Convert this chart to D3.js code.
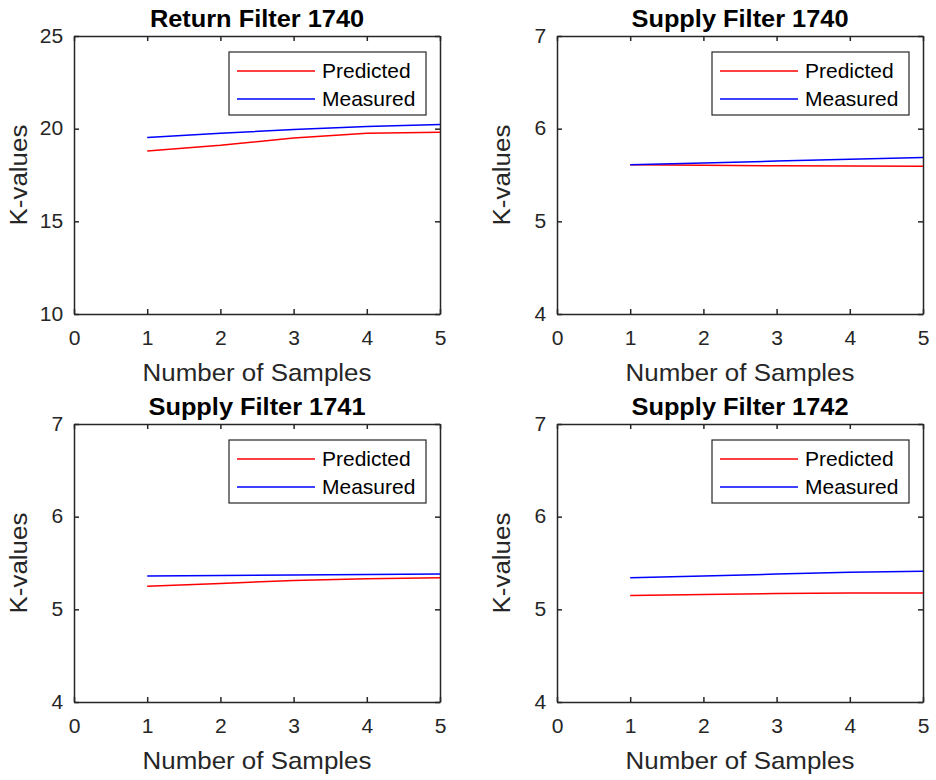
<!DOCTYPE html>
<html>
<head>
<meta charset="utf-8">
<script src="https://cdn.jsdelivr.net/npm/d3@7"></script>
<style>
    body { margin: 0; background: #fff; }
    svg text { font-family: "Liberation Sans", Arial, sans-serif; }
</style>
</head>
<body>
<svg id="chart" width="936" height="780"></svg>
<script>
// chart data
var samples = [1, 2, 3, 4, 5];
var titles = ['Return Filter 1740', 'Supply Filter 1740', 'Supply Filter 1741', 'Supply Filter 1742'];
var seriesNames = ['Predicted', 'Measured'];
var xTicks = [0, 1, 2, 3, 4, 5];
var yTicksReturn = [10, 15, 20, 25];
var yTicksSupply = [4, 5, 6, 7];
var predictedR1740 = [18.8, 19.1, 19.5, 19.75, 19.8];
var measuredR1740 = [19.52, 19.75, 19.95, 20.12, 20.22];
var predictedS1740 = [5.61, 5.605, 5.6, 5.597, 5.595];
var measuredS1740 = [5.61, 5.63, 5.65, 5.67, 5.69];
var predictedS1741 = [5.25, 5.28, 5.31, 5.33, 5.34];
var measuredS1741 = [5.36, 5.365, 5.37, 5.375, 5.38];
var predictedS1742 = [5.15, 5.16, 5.17, 5.175, 5.175];
var measuredS1742 = [5.34, 5.36, 5.38, 5.4, 5.41];

var panels = [
    { title: titles[0], yTicks: yTicksReturn, series: [predictedR1740, measuredR1740], left: 74, top: 36 },
    { title: titles[1], yTicks: yTicksSupply, series: [predictedS1740, measuredS1740], left: 557, top: 36 },
    { title: titles[2], yTicks: yTicksSupply, series: [predictedS1741, measuredS1741], left: 74, top: 424 },
    { title: titles[3], yTicks: yTicksSupply, series: [predictedS1742, measuredS1742], left: 557, top: 424 }
];
var colors = ['#ff0000', '#0000ff'];
var width = 366;
var height = 278;
var axisColor = '#262626';
var stretch = 1.08;

var svg = d3.select('#chart');

function drawPanel(p) {
    var g = svg.append('g').attr('transform', 'translate(' + p.left + ',' + p.top + ')');
    var x = d3.scaleLinear().domain([0, 5]).range([0, width]);
    var y = d3.scaleLinear().domain(d3.extent(p.yTicks)).range([height, 0]);
    var fmt = d3.format('d');

    // axes with inward ticks, mirrored on top and right
    var bottom = g.append('g').attr('transform', 'translate(0,' + height + ')')
        .call(d3.axisBottom(x).tickValues(xTicks).tickFormat(fmt).tickSizeInner(-5).tickSizeOuter(0).tickPadding(17));
    var left = g.append('g')
        .call(d3.axisLeft(y).tickValues(p.yTicks).tickFormat(fmt).tickSizeInner(-5).tickSizeOuter(0).tickPadding(10));
    var top = g.append('g')
        .call(d3.axisTop(x).tickValues(xTicks).tickSizeInner(-5).tickSizeOuter(0).tickFormat(''));
    var right = g.append('g').attr('transform', 'translate(' + width + ',0)')
        .call(d3.axisRight(y).tickValues(p.yTicks).tickSizeInner(-5).tickSizeOuter(0).tickFormat(''));

    [bottom, left, top, right].forEach(function (a) {
        a.select('.domain').attr('stroke', axisColor).attr('stroke-width', 1.5);
        a.selectAll('.tick line').attr('stroke', axisColor).attr('stroke-width', 1.5);
        a.selectAll('.tick text')
            .attr('fill', axisColor)
            .style('font-size', '19.5px')
            .attr('transform', 'scale(' + stretch + ',1)');
    });
    bottom.selectAll('.tick text').attr('dy', '0.71em');

    // data lines
    var line = d3.line()
        .x(function (d, i) { return x(samples[i]); })
        .y(function (d) { return y(d); });
    p.series.forEach(function (s, i) {
        g.append('path')
            .datum(s)
            .attr('fill', 'none')
            .attr('stroke', colors[i])
            .attr('stroke-width', 1.5)
            .attr('d', line);
    });

    // title
    g.append('text')
        .attr('transform', 'translate(' + (width / 2) + ',-9) scale(' + stretch + ',1)')
        .attr('text-anchor', 'middle')
        .style('font-size', '23.5px')
        .style('font-weight', 'bold')
        .attr('fill', '#000')
        .text(p.title);

    // axis labels
    g.append('text')
        .attr('transform', 'translate(' + (width / 2) + ',' + (height + 67) + ') scale(' + stretch + ',1)')
        .attr('text-anchor', 'middle')
        .style('font-size', '24px')
        .attr('fill', axisColor)
        .text('Number of Samples');
    g.append('text')
        .attr('transform', 'translate(-47,' + (height / 2) + ') rotate(-90) scale(' + stretch + ',1)')
        .attr('text-anchor', 'middle')
        .style('font-size', '24px')
        .attr('fill', axisColor)
        .text('K-values');

    // legend
    var lg = g.append('g').attr('transform', 'translate(' + (width - 14 - 197) + ',16)');
    lg.append('rect')
        .attr('width', 197).attr('height', 63)
        .attr('fill', '#fff')
        .attr('stroke', axisColor)
        .attr('stroke-width', 1.2);
    seriesNames.forEach(function (name, i) {
        var cy = 19 + i * 28;
        lg.append('line')
            .attr('x1', 8).attr('x2', 86)
            .attr('y1', cy).attr('y2', cy)
            .attr('stroke', colors[i])
            .attr('stroke-width', 1.5);
        lg.append('text')
            .attr('transform', 'translate(93,' + (cy + 7) + ') scale(1.05,1)')
            .style('font-size', '20px')
            .attr('fill', '#000')
            .text(name);
    });
}

panels.forEach(drawPanel);
</script>
</body>
</html>
